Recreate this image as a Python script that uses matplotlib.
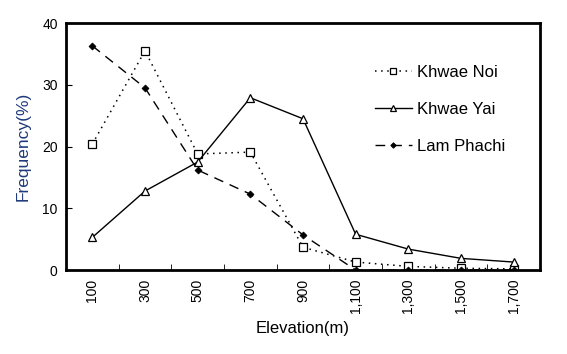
import numpy as np
import matplotlib
matplotlib.use("Agg")
from matplotlib import pyplot as plt

plt.rcParams['font.family'] = ['Liberation Sans', 'DejaVu Sans']

elevacion = ["100", "300", "500", "700", "900", "1,100", "1,300", "1,500", "1,700"]
khwae_noi = [20.4, 35.5, 18.8, 19.1, 3.7, 1.3, 0.6, 0.3, 0.2]
khwae_yai = [5.3, 12.8, 17.5, 27.9, 24.5, 5.8, 3.4, 1.9, 1.3]
lam_phachi = [36.3, 29.5, 16.2, 12.3, 5.7, 0.0, 0.0, 0.0, 0.0]

fig = plt.figure(figsize=(5.67, 3.54), dpi=100)
ax = fig.add_axes([0.1164, 0.237, 0.836, 0.698])

x = np.arange(len(elevacion))
ax.plot(x, khwae_noi, color="black", linestyle=(0, (1, 3)), linewidth=1.1,
        marker="s", markersize=6, markerfacecolor="white", markeredgewidth=0.9,
        label="Khwae Noi")
ax.plot(x, khwae_yai, color="black", linestyle="-", linewidth=1.0,
        marker="^", markersize=6, markerfacecolor="white", markeredgewidth=0.9,
        label="Khwae Yai")
ax.plot(x, lam_phachi, color="black", linestyle=(0, (7, 5)), linewidth=1.0,
        marker="D", markersize=3.5, markerfacecolor="black", markeredgewidth=0.6,
        label="Lam Phachi")

ax.set_xlim(-0.5, len(elevacion) - 0.5)
ax.set_ylim(0, 40)
ax.set_yticks([0, 10, 20, 30, 40])
ax.set_xticks(x)
ax.set_xticklabels(elevacion, rotation=90, fontsize=10)
ax.set_xticks(x[:-1] + 0.5, minor=True)
ax.tick_params(axis="x", which="major", length=0, pad=6)
ax.tick_params(axis="x", which="minor", direction="in", length=4)
ax.tick_params(axis="y", direction="in", length=4, labelsize=10, pad=6)

for s in ax.spines.values():
    s.set_linewidth(2)

ax.set_xlabel("Elevation(m)", fontsize=12, labelpad=6)
ax.set_ylabel("Frequency(%)", fontsize=12.5, color="#1f3a7a", labelpad=8)

ax.legend(loc="upper left", bbox_to_anchor=(0.62, 0.89), frameon=False,
          fontsize=12, handlelength=2.2, labelspacing=1.3, handletextpad=0.3,
          markerscale=0.8)

fig.savefig("out.png", dpi=100)
